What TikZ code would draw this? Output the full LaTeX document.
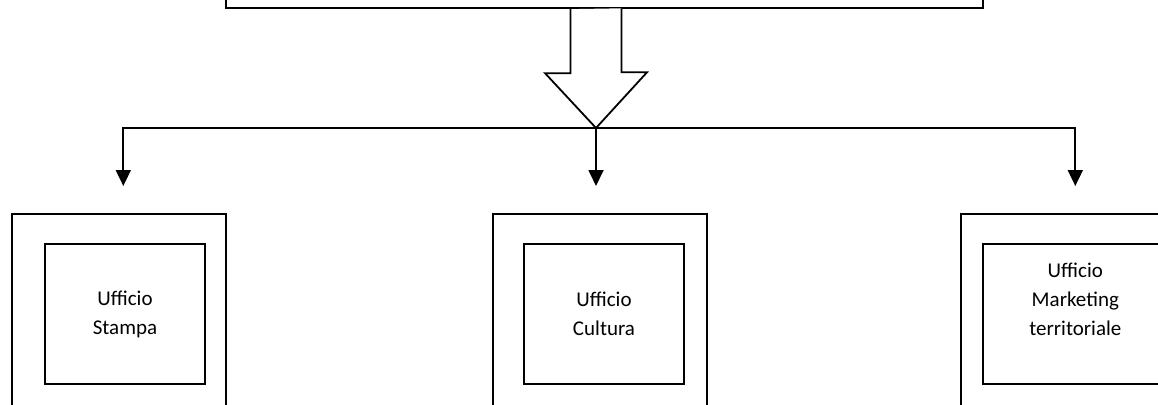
\documentclass[tikz,border=0pt]{standalone}
\usepackage{fontspec}
\setmainfont{Carlito}
\usetikzlibrary{arrows.meta}

\begin{document}
\begin{tikzpicture}[x=1pt, y=-1pt,
  frame/.style={draw, line width=1.9pt, minimum width=214pt, minimum height=240pt},
  office/.style={draw, line width=2.3pt, minimum width=160pt, minimum height=140.6pt, align=center, font=\fontsize{21}{29}\selectfont},
  link/.style={-{Triangle[width=15pt,length=16pt]}, line width=1.8pt}]
\useasboundingbox (0,0) rectangle (1158,404);
\clip (0,0) rectangle (1158,404);

% head office, cut by the top edge
\node[draw, line width=2.3pt, minimum width=757pt, minimum height=40pt] (direzione) at (604.5,-12) {};

\coordinate (hub) at (596,128);
\coordinate (tA) at (123.3,186);
\coordinate (tB) at (596,186);
\coordinate (tC) at (1075.3,186);

% hollow block arrow down to the bus
\draw[line width=1.8pt, fill=white] (hub |- direzione.south) ++(-25.5,0) -- ++(0,64) -- ++(-25.5,0) -- (hub) -- ++(51,-55.7) -- ++(-25.5,0) -- ++(0,-64);

\draw[link] (hub) -| (tA);
\draw[link] (hub) -- (tB);
\draw[link] (hub) -| (tC);

% offices
\node[frame] (frameA) at (118.9,334) {};
\node[office] (stampa) at (125,314) {Ufficio\\Stampa};
\node[frame] (frameB) at (600,334) {};
\node[office] (cultura) at (604,314) {Ufficio\\Cultura};
\node[frame, minimum width=230pt] (frameC) at (1075.7,334) {};
\node[office, minimum width=185pt] (marketing) at (1075.3,314) {Ufficio\\Marketing\\territoriale\\\mbox{}};
\end{tikzpicture}
\end{document}
